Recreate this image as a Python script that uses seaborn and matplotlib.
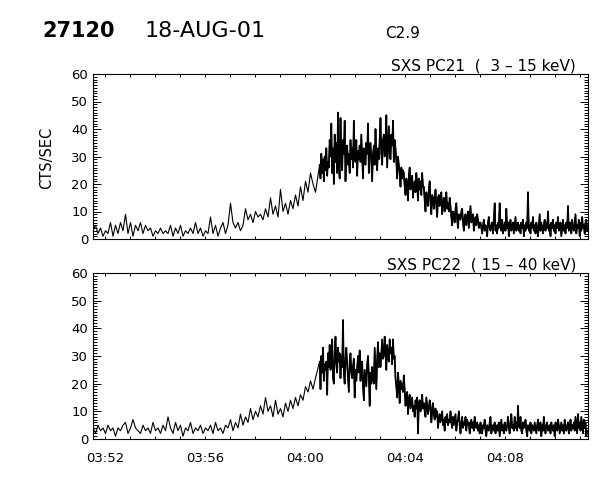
import numpy as np
import pandas as pd
import matplotlib
matplotlib.use("Agg")
import matplotlib.pyplot as plt
from matplotlib.ticker import MultipleLocator
import seaborn as sns

# sample timing, seconds after 03:52:00 UT
QUIET_START = -29      # 03:51:31, slow cadence before the flare
QUIET_STEP = 6
FLARE_START = 515      # 04:00:35, fast cadence once flare mode kicks in
FLARE_STEP = 2

# PC21 (3-15 keV) counts
pc21_quiet = [3, 5, 2, 4, 1, 3, 2, 6, 1, 5, 2, 6, 3, 9, 2, 6, 1, 5, 3, 6,
              2, 5, 3, 4, 1, 3, 2, 4, 2, 3, 2, 5, 1, 4, 2, 5, 1, 3, 2, 4,
              2, 6, 2, 4, 1, 3, 2, 8, 2, 5, 1, 4, 6, 2, 5, 13, 6, 4, 6, 3,
              5, 11, 7, 9, 6, 10, 8, 9, 7, 11, 8, 15, 9, 12, 8, 18, 10, 13, 9, 14,
              11, 16, 12, 19, 14, 21, 17, 24, 20, 17]
pc21_flare = [27, 22, 31, 24, 29, 21, 30, 25, 33, 23, 28, 26, 36,
              30, 42, 24, 33, 20, 38, 28, 35, 24, 46, 27, 22,
              44, 29, 25, 36, 31, 43, 21, 33,
              34, 27, 31, 24, 36, 29, 33, 26, 43, 30, 28, 36, 23, 32, 29, 34,
              28, 38, 30, 22, 33, 29, 27, 35, 31, 42, 24, 33,
              35, 28, 21, 31, 34, 27, 40, 30, 25, 33, 29, 36,
              44, 31, 27, 36, 38, 30, 33, 45, 26, 34, 41, 31, 29, 38, 34, 43, 28, 36,
              33, 28, 22, 30, 27, 24, 19, 26, 22, 25,
              24, 19, 16, 22, 20, 14, 23, 26, 18, 21, 23, 15,
              19, 21, 17, 24, 20, 14, 22, 18, 21, 16, 24, 19,
              19, 14, 10, 17, 15, 12, 18, 21, 13, 9, 16, 15, 11, 14, 18, 12,
              8, 15, 16, 12, 14, 17, 9, 13, 15, 10, 14, 17, 11, 13, 10, 15,
              12, 8, 5, 10, 9, 6, 11, 13, 7, 4, 9, 8, 7, 10, 11, 6, 3, 8,
              9, 5, 7, 10, 4, 8, 12, 6, 7, 9, 3, 6, 8, 5, 9, 7, 4, 6,
              6, 4, 2, 5, 7, 3, 5, 4, 1, 6, 8, 4, 3, 5, 6, 2,
              7, 13, 3, 5, 2, 6, 4, 13, 5, 3, 7, 2, 4, 6, 3, 11,
              4, 6, 1, 5, 7, 3, 4, 6, 2, 5, 8, 3, 4, 6, 3, 5,
              2, 6, 4, 7, 1, 5, 3, 6, 4, 17, 3, 5, 2, 6, 4, 8,
              3, 5, 2, 6, 4, 1, 5, 9, 3, 6, 4, 2, 5, 7, 3, 6,
              4, 10, 3, 5, 1, 6, 4, 7, 3, 5, 2, 6, 4, 8, 3, 5,
              6, 1, 4, 7, 3, 5, 2, 6, 4, 12, 3, 5, 6, 2, 7, 4,
              3, 6, 9, 2, 5, 4, 7, 1, 6, 3, 8, 4, 5, 2, 6, 7, 3]

# PC22 (15-40 keV)
pc22_quiet = [4, 2, 5, 3, 4, 2, 5, 3, 4, 1, 4, 3, 5, 6, 2, 4, 7, 4, 3, 2,
              5, 3, 4, 2, 6, 3, 4, 2, 5, 3, 8, 4, 2, 6, 3, 5, 1, 4, 3, 6,
              2, 4, 3, 5, 2, 4, 3, 5, 2, 6, 3, 4, 2, 5, 4, 7, 3, 6, 4, 9,
              5, 8, 6, 11, 7, 10, 8, 12, 9, 15, 10, 12, 8, 14, 9, 11, 8, 13, 10, 14,
              11, 15, 12, 16, 14, 19, 17, 21, 18, 22]
pc22_flare = [28, 18, 30, 24, 33, 21, 27, 25, 28, 16, 31, 26, 34,
              25, 29, 36, 22, 20, 31, 37, 27, 24, 33, 28, 31,
              22, 30, 26, 43, 24, 20, 29, 33,
              27, 22, 17, 28, 31, 24, 22, 26, 29, 15, 25, 21, 26, 30, 24, 32,
              21, 26, 28, 19, 14, 25, 22, 19, 27, 30, 23, 12,
              24, 20, 26, 22, 20, 33, 25, 18, 29, 35, 26, 31,
              26, 31, 36, 29, 30, 37, 32, 25, 34, 30, 28, 36, 31, 33, 27, 36, 29, 30,
              22, 19, 15, 24, 20, 13, 21, 18, 20, 17,
              23, 18, 12, 15, 17, 9, 14, 16, 11, 13, 15, 10,
              12, 8, 14, 11, 15, 2, 13, 14, 10, 12, 16, 11,
              13, 10, 8, 15, 12, 9, 11, 14, 12, 6, 10, 13, 9, 7, 11, 8,
              10, 4, 7, 9, 6, 8, 10, 5, 7, 3, 8, 6, 9, 5, 7, 6,
              10, 6, 4, 8, 5, 7, 9, 3, 6, 7, 10, 5, 2, 6, 8, 4, 6, 5,
              8, 3, 7, 5, 6, 2, 5, 7, 4, 6, 3, 8, 5, 4, 6, 3, 5, 2,
              6, 3, 2, 5, 4, 7, 3, 1, 5, 4, 3, 6, 8, 2, 4, 5,
              3, 6, 2, 4, 5, 3, 6, 1, 4, 7, 3, 5, 2, 6, 4, 3,
              5, 8, 4, 2, 6, 9, 4, 5, 3, 8, 4, 6, 3, 12, 5, 4,
              8, 3, 2, 6, 4, 5, 7, 3, 1, 5, 4, 3, 6, 2, 5, 4,
              3, 6, 4, 2, 5, 7, 3, 4, 6, 1, 5, 3, 8, 4, 2, 5,
              6, 3, 4, 5, 2, 6, 4, 3, 5, 1, 6, 4, 3, 7, 5, 2,
              4, 6, 3, 5, 2, 7, 4, 3, 5, 6, 2, 4, 7, 3, 5, 4,
              6, 3, 8, 5, 2, 9, 4, 6, 3, 8, 5, 2, 7, 4, 6, 1, 3]

channels = ["SXS PC21  (  3 \u2013 15 keV)", "SXS PC22  ( 15 \u2013 40 keV)"]
time_labels = ["03:52", "03:56", "04:00", "04:04", "04:08"]


def build_series(quiet, flare):
    t = np.concatenate([QUIET_START + QUIET_STEP * np.arange(len(quiet)),
                        FLARE_START + FLARE_STEP * np.arange(len(flare))])
    mode = ["quiet"] * len(quiet) + ["flare"] * len(flare)
    return pd.DataFrame({"sec": t, "cts": quiet + flare, "mode": mode})


sns.set_style("ticks")
plt.rcParams["font.family"] = ["DejaVu Sans"]
plt.rcParams.update({"text.color": "black", "xtick.color": "black",
                     "ytick.color": "black", "axes.labelcolor": "black",
                     "axes.edgecolor": "black"})

fig = plt.figure(figsize=(6, 4.8), dpi=100)
fig.patch.set_facecolor("white")

W, H = 600.0, 480.0
panels = [
    (build_series(pc21_quiet, pc21_flare), 74, 239),
    (build_series(pc22_quiet, pc22_flare), 273, 439),
]

for i, (df, top_px, bot_px) in enumerate(panels):
    ax = fig.add_axes([93 / W, 1 - bot_px / H, 495 / W, (bot_px - top_px) / H])
    sns.lineplot(data=df, x="sec", y="cts", ax=ax, color="black",
                 linewidth=0.8, estimator=None, sort=False)
    # fast-cadence stretch is drawn heavier so it reads as a dense band
    sns.lineplot(data=df[df["mode"] == "flare"], x="sec", y="cts", ax=ax,
                 color="black", linewidth=1.25, estimator=None, sort=False)
    ax.set_xlim(-29, 1159)
    ax.set_ylim(0, 60)
    ax.set_xlabel("")
    ax.set_ylabel("")

    ax.set_xticks(np.arange(len(time_labels)) * 240)
    ax.xaxis.set_minor_locator(MultipleLocator(60))
    ax.yaxis.set_major_locator(MultipleLocator(10))
    ax.yaxis.set_minor_locator(MultipleLocator(1))

    ax.tick_params(axis="y", which="both", direction="in", left=True, right=True,
                   labelsize=9.5, pad=3.5, width=0.7)
    ax.tick_params(axis="y", which="major", length=5.8)
    ax.tick_params(axis="y", which="minor", length=2.9)
    ax.tick_params(axis="x", which="both", direction="in", bottom=True, top=True,
                   length=2.4, width=0.7, labelsize=9.5, pad=9)

    if i == len(panels) - 1:
        ax.set_xticklabels(time_labels)
    else:
        ax.set_xticklabels([])

    for sp in ax.spines.values():
        sp.set_visible(True)
        sp.set_linewidth(0.8)

    ax.text(0.976, 1.006, channels[i], transform=ax.transAxes,
            ha="right", va="bottom", fontsize=11)

fig.text(42 / W, 1 - 31 / H, "27120", fontsize=15, fontweight="bold", va="center")
fig.text(145 / W, 1 - 31 / H, "18-AUG-01", fontsize=16, va="center")
fig.text(385 / W, 1 - 33 / H, "C2.9", fontsize=11, va="center")
fig.text(47 / W, 1 - 158 / H, "CTS/SEC", rotation=90, fontsize=10.5,
         ha="center", va="center")

fig.savefig("out.png", dpi=100, facecolor="white")
